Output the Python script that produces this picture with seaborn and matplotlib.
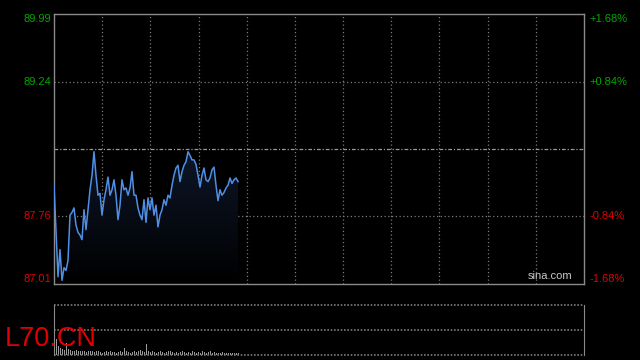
import matplotlib
matplotlib.use("Agg")
import matplotlib.pyplot as plt
from matplotlib.colors import LinearSegmentedColormap
import seaborn as sns
import pandas as pd
import numpy as np

# ---- data ----
prev_close = 88.50
price_ticks_left = [89.99, 89.24, 87.76, 87.01]
pct_labels_right = ["+1.68%", "+0.84%", "-0.84%", "-1.68%"]
total_slots = 265

prices = [88.10, 87.60, 87.09, 87.39, 87.05, 87.19, 87.16, 87.27, 87.77, 87.80,
          87.85, 87.66, 87.58, 87.55, 87.50, 87.83, 87.61, 87.83, 88.05, 88.21,
          88.47, 88.21, 87.99, 88.01, 87.77, 87.94, 88.05, 88.19, 87.99, 88.05,
          88.16, 87.99, 87.72, 87.88, 88.16, 88.05, 88.07, 87.99, 88.07, 88.25,
          87.99, 87.99, 87.85, 87.77, 87.72, 87.94, 87.69, 87.96, 87.83, 87.96,
          87.77, 87.88, 87.64, 87.77, 87.83, 87.94, 87.88, 87.99, 87.96, 88.10,
          88.21, 88.29, 88.32, 88.14, 88.25, 88.32, 88.36, 88.47, 88.43, 88.38,
          88.38, 88.33, 88.21, 88.08, 88.21, 88.29, 88.16, 88.14, 88.18, 88.27,
          88.30, 88.10, 87.93, 88.05, 87.99, 88.02, 88.07, 88.10, 88.18, 88.12,
          88.16, 88.18, 88.14]

volumes = [900, 1300, 700, 600, 500, 400, 1000, 500, 400, 350,
           300, 400, 300, 350, 300, 300, 250, 300, 350, 300,
           250, 300, 300, 250, 200, 250, 300, 250, 300, 250,
           250, 200, 250, 300, 250, 600, 300, 250, 200, 250,
           300, 250, 350, 400, 300, 250, 900, 300, 250, 300,
           250, 200, 250, 300, 250, 200, 250, 300, 350, 250,
           200, 250, 200, 250, 300, 250, 200, 250, 200, 300,
           250, 200, 250, 200, 300, 250, 200, 250, 300, 200,
           250, 200, 150, 200, 250, 200, 150, 200, 150, 200,
           150, 200, 150]

df = pd.DataFrame({"t": np.arange(len(prices)), "price": prices, "vol": volumes})

# ---- figure ----
fig = plt.figure(figsize=(6.4, 3.6), dpi=100, facecolor="black")
ax = fig.add_axes([54/640, 1-284/360, 530/640, 270/360])
axv = fig.add_axes([54/640, 1-355/360, 530/640, 50/360])
for a in (ax, axv):
    a.set_facecolor("black")

ymin, ymax = price_ticks_left[-1], price_ticks_left[0]

grid_c = "#7a7a7a"
for k in range(1, 11):
    ax.axvline(total_slots * k / 11, color=grid_c, lw=0.9, ls=(0, (1, 2)), zorder=1)
for v in (price_ticks_left[1], price_ticks_left[2]):
    ax.axhline(v, color=grid_c, lw=0.9, ls=(0, (1, 2)), zorder=1)
ax.axhline(prev_close, color="#9a9a9a", lw=0.9, ls=(0, (3, 1.5, 1, 1.5)), zorder=1)

# gradient fill under the line
poly = ax.fill_between(df["t"], df["price"], ymin, color="none", lw=0, zorder=2)
cmap = LinearSegmentedColormap.from_list("g", ["#000000", "#0d1628"])
grad = np.linspace(0, 1, 256).reshape(-1, 1)
top = max(prices)
img = ax.imshow(grad, cmap=cmap, aspect="auto", origin="lower",
                extent=[0, len(prices) - 1, ymin, top], zorder=2, alpha=1)
img.set_clip_path(poly.get_paths()[0], transform=ax.transData)

sns.lineplot(data=df, x="t", y="price", ax=ax, color="#4f8fe6", lw=1.1, zorder=3)
ax.set_xlim(0, total_slots)
ax.set_ylim(ymin, ymax)
ax.set_xlabel(""); ax.set_ylabel("")
ax.set_xticks([]); ax.set_yticks([])
for s in ax.spines.values():
    s.set_color("#8a8a8a"); s.set_linewidth(1)

green, red = "#00a800", "#e00000"
colors = [green, green, red, red]
vas = ["top", "center", "center", "bottom"]
for v, lab, c, va in zip(price_ticks_left, pct_labels_right, colors, vas):
    ax.text(-0.006, v, f"{v:.2f}", color=c, fontsize=8, ha="right", va=va,
            transform=ax.get_yaxis_transform(), family="Liberation Sans")
    ax.text(1.011, v, lab, color=c, fontsize=8, ha="left", va=va,
            transform=ax.get_yaxis_transform(), family="Liberation Sans")
ax.text(0.978, 0.012, "sina.com", color="#c8c8c8", fontsize=8, ha="right", va="bottom",
        transform=ax.transAxes, family="Liberation Sans")

# ---- volume ----
sns.barplot(data=df, x="t", y="vol", ax=axv, color="#9a9a9a", width=0.5,
            native_scale=True, saturation=1)
axv.set_xlim(0, total_slots)
axv.set_ylim(0, 4000)
axv.set_xlabel(""); axv.set_ylabel("")
axv.set_xticks([]); axv.set_yticks([])
for side in ("top", "bottom"):
    axv.spines[side].set_visible(False)
for side in ("left", "right"):
    axv.spines[side].set_color("#8a8a8a")
for yy in (0.0, 0.5, 1.0):
    axv.axhline(4000 * yy, color=grid_c, lw=1.2, ls=(0, (1, 1)), clip_on=False)

fig.text(5/640, 1-339/360, "L70.CN", color=red, fontsize=19.5, ha="left", va="center",
         family="Liberation Sans")

fig.savefig("out.png", dpi=100, facecolor="black")
